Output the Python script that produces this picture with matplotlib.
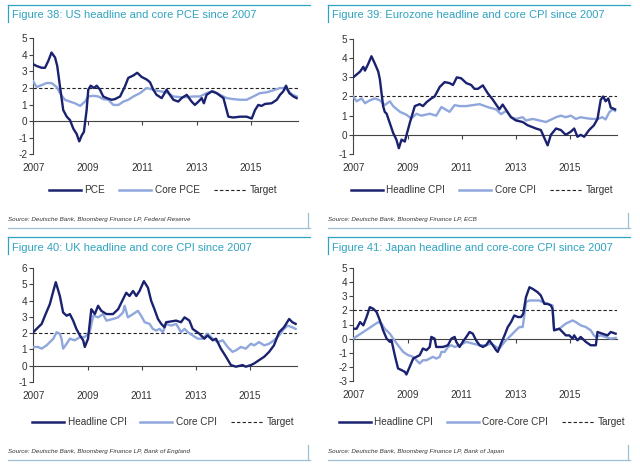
import matplotlib
matplotlib.use("Agg")
import matplotlib.pyplot as plt
from matplotlib.lines import Line2D

plt.rcParams['font.family'] = ['Liberation Sans', 'DejaVu Sans']
plt.rcParams['axes.unicode_minus'] = False

# ---------------- data (decimal years, % y/y) ----------------
us_pce_x = [2007.00, 2007.12, 2007.31, 2007.43, 2007.55, 2007.67, 2007.80, 2007.88, 2007.98, 2008.10,
            2008.23, 2008.35, 2008.47, 2008.59, 2008.69, 2008.78, 2008.86, 2008.96, 2009.02, 2009.11,
            2009.23, 2009.33, 2009.45, 2009.57, 2009.70, 2009.88, 2010.00, 2010.19, 2010.37, 2010.49,
            2010.68, 2010.82, 2010.98, 2011.17, 2011.29, 2011.41, 2011.53, 2011.72, 2011.90, 2012.02,
            2012.15, 2012.33, 2012.45, 2012.64, 2012.82, 2012.94, 2013.07, 2013.19, 2013.27, 2013.37,
            2013.56, 2013.74, 2013.99, 2014.17, 2014.35, 2014.60, 2014.84, 2015.03, 2015.15, 2015.27,
            2015.39, 2015.52, 2015.76, 2015.95, 2016.07, 2016.19, 2016.29, 2016.41, 2016.56, 2016.68]
us_pce_y = [3.43, 3.33, 3.22, 3.22, 3.63, 4.14, 3.84, 3.33, 2.10, 0.67,
            0.27, 0.06, -0.45, -0.76, -1.22, -0.86, -0.65, 0.67, 1.90, 2.14,
            2.00, 2.14, 1.90, 1.49, 1.39, 1.29, 1.33, 1.49, 2.10, 2.61,
            2.76, 2.92, 2.67, 2.51, 2.35, 1.90, 1.59, 1.39, 1.90, 1.59,
            1.29, 1.18, 1.39, 1.59, 1.18, 0.98, 1.18, 1.39, 1.08, 1.59,
            1.80, 1.69, 1.39, 0.27, 0.22, 0.27, 0.27, 0.16, 0.67, 0.98,
            0.92, 1.04, 1.08, 1.29, 1.59, 1.80, 2.14, 1.69, 1.49, 1.39]
us_core_x = [2007.00, 2007.12, 2007.31, 2007.49, 2007.67, 2007.86, 2007.98, 2008.16, 2008.35, 2008.53,
             2008.72, 2008.90, 2009.02, 2009.21, 2009.39, 2009.57, 2009.76, 2009.94, 2010.13, 2010.31,
             2010.49, 2010.68, 2010.92, 2011.17, 2011.41, 2011.66, 2011.90, 2012.15, 2012.39, 2012.64,
             2012.88, 2013.13, 2013.37, 2013.62, 2013.86, 2014.11, 2014.35, 2014.60, 2014.84, 2015.09,
             2015.33, 2015.58, 2015.82, 2016.07, 2016.25, 2016.38, 2016.53, 2016.68]
us_core_y = [2.40, 2.06, 2.18, 2.30, 2.30, 2.06, 1.69, 1.29, 1.18, 1.08,
             0.92, 1.18, 1.49, 1.53, 1.49, 1.33, 1.29, 0.98, 0.98, 1.18,
             1.29, 1.49, 1.69, 2.00, 1.90, 1.80, 1.74, 1.49, 1.45, 1.45,
             1.49, 1.49, 1.69, 1.80, 1.59, 1.39, 1.33, 1.29, 1.29, 1.49,
             1.69, 1.74, 1.86, 2.00, 2.00, 1.80, 1.59, 1.49]

ez_head_x = [2007.00, 2007.25, 2007.37, 2007.43, 2007.55, 2007.67, 2007.80, 2007.92, 2007.98, 2008.10,
             2008.16, 2008.23, 2008.35, 2008.47, 2008.59, 2008.68, 2008.78, 2008.90, 2009.08, 2009.27,
             2009.45, 2009.57, 2009.70, 2009.88, 2010.00, 2010.19, 2010.37, 2010.55, 2010.68, 2010.82,
             2010.98, 2011.17, 2011.35, 2011.47, 2011.60, 2011.78, 2011.96, 2012.15, 2012.39, 2012.51,
             2012.70, 2012.82, 2013.00, 2013.25, 2013.43, 2013.74, 2013.92, 2014.17, 2014.29, 2014.48,
             2014.66, 2014.84, 2015.03, 2015.15, 2015.27, 2015.39, 2015.52, 2015.70, 2015.88, 2016.01,
             2016.13, 2016.22, 2016.31, 2016.41, 2016.50, 2016.66]
ez_head_y = [3.00, 3.30, 3.55, 3.35, 3.70, 4.10, 3.70, 3.30, 2.90, 1.50,
             1.20, 1.10, 0.60, 0.10, -0.25, -0.70, -0.25, -0.35, 0.60, 1.50,
             1.60, 1.50, 1.70, 1.90, 2.00, 2.50, 2.75, 2.70, 2.60, 3.00,
             2.95, 2.70, 2.60, 2.40, 2.40, 2.58, 2.17, 1.83, 1.33, 1.58,
             1.17, 0.92, 0.75, 0.67, 0.50, 0.33, 0.25, -0.55, 0.00, 0.33,
             0.25, 0.00, 0.17, 0.33, -0.10, 0.00, -0.10, 0.25, 0.50, 0.83,
             1.83, 2.00, 1.75, 1.90, 1.42, 1.33]
ez_core_x = [2007.00, 2007.12, 2007.31, 2007.43, 2007.61, 2007.80, 2007.98, 2008.16, 2008.35, 2008.47,
             2008.72, 2008.96, 2009.14, 2009.33, 2009.51, 2009.82, 2010.06, 2010.25, 2010.43, 2010.55,
             2010.74, 2010.92, 2011.17, 2011.41, 2011.66, 2012.02, 2012.27, 2012.45, 2012.64, 2012.82,
             2013.00, 2013.25, 2013.37, 2013.62, 2013.86, 2014.11, 2014.35, 2014.48, 2014.66, 2014.84,
             2015.03, 2015.21, 2015.39, 2015.58, 2015.82, 2016.01, 2016.19, 2016.31, 2016.44, 2016.56,
             2016.66]
ez_core_y = [2.00, 1.75, 1.90, 1.65, 1.80, 1.90, 1.80, 1.55, 1.75, 1.50,
             1.20, 1.05, 0.85, 1.10, 1.00, 1.10, 1.00, 1.45, 1.30, 1.20,
             1.55, 1.50, 1.50, 1.55, 1.60, 1.42, 1.33, 1.08, 1.25, 0.92,
             0.83, 0.92, 0.75, 0.83, 0.75, 0.67, 0.83, 0.92, 1.00, 0.92,
             1.00, 0.83, 0.92, 0.87, 0.83, 0.83, 0.92, 0.80, 1.17, 1.33,
             1.25]

uk_head_x = [2007.00, 2007.18, 2007.31, 2007.43, 2007.61, 2007.74, 2007.83, 2007.98, 2008.10, 2008.23,
             2008.35, 2008.47, 2008.59, 2008.72, 2008.84, 2008.90, 2009.02, 2009.14, 2009.27, 2009.39,
             2009.51, 2009.70, 2009.94, 2010.13, 2010.31, 2010.43, 2010.55, 2010.68, 2010.80, 2010.92,
             2011.08, 2011.23, 2011.35, 2011.47, 2011.60, 2011.72, 2011.84, 2011.90, 2012.27, 2012.45,
             2012.58, 2012.76, 2012.88, 2013.13, 2013.31, 2013.43, 2013.62, 2013.74, 2013.92, 2014.11,
             2014.29, 2014.48, 2014.72, 2014.84, 2015.03, 2015.15, 2015.33, 2015.52, 2015.70, 2015.88,
             2016.07, 2016.25, 2016.44, 2016.56, 2016.68]
uk_head_y = [2.06, 2.36, 2.57, 3.07, 3.78, 4.59, 5.13, 4.28, 3.27, 3.07,
             3.17, 2.77, 2.26, 1.86, 1.56, 1.15, 1.66, 3.47, 3.17, 3.68,
             3.37, 3.17, 3.17, 3.47, 4.08, 4.48, 4.28, 4.59, 4.28, 4.59,
             5.19, 4.79, 3.98, 3.47, 2.87, 2.57, 2.36, 2.67, 2.77, 2.67,
             2.97, 2.77, 2.26, 1.96, 1.66, 1.86, 1.56, 1.66, 1.05, 0.55,
             0.04, -0.06, 0.04, -0.06, 0.04, 0.14, 0.34, 0.55, 0.85, 1.25,
             2.06, 2.36, 2.87, 2.67, 2.57]
uk_core_x = [2007.00, 2007.18, 2007.31, 2007.49, 2007.61, 2007.74, 2007.86, 2007.98, 2008.04, 2008.10,
             2008.23, 2008.35, 2008.53, 2008.72, 2008.90, 2009.08, 2009.21, 2009.39, 2009.57, 2009.70,
             2009.94, 2010.13, 2010.31, 2010.37, 2010.49, 2010.68, 2010.86, 2010.98, 2011.11, 2011.29,
             2011.41, 2011.53, 2011.66, 2011.78, 2011.90, 2012.09, 2012.27, 2012.45, 2012.58, 2012.70,
             2012.88, 2013.07, 2013.25, 2013.43, 2013.62, 2013.80, 2013.99, 2014.17, 2014.35, 2014.48,
             2014.66, 2014.84, 2015.03, 2015.15, 2015.33, 2015.52, 2015.70, 2015.88, 2016.07, 2016.25,
             2016.38, 2016.56, 2016.68]
uk_core_y = [1.15, 1.15, 1.05, 1.25, 1.45, 1.66, 2.06, 1.96, 1.66, 1.05,
             1.35, 1.66, 1.56, 1.76, 1.76, 2.06, 3.07, 2.97, 3.17, 2.77,
             2.87, 2.97, 3.27, 3.68, 2.97, 3.17, 3.37, 3.07, 2.67, 2.57,
             2.26, 2.16, 2.26, 2.06, 2.57, 2.46, 2.57, 2.06, 2.26, 2.06,
             1.86, 1.66, 1.66, 1.96, 1.66, 1.45, 1.56, 1.15, 0.85, 0.95,
             1.15, 1.05, 1.35, 1.25, 1.45, 1.25, 1.35, 1.56, 1.86, 2.26,
             2.46, 2.36, 2.26]

jp_head_x = [2007.00, 2007.12, 2007.25, 2007.37, 2007.49, 2007.61, 2007.74, 2007.86, 2007.98, 2008.10,
             2008.23, 2008.35, 2008.41, 2008.53, 2008.65, 2008.78, 2008.90, 2008.96, 2009.08, 2009.21,
             2009.33, 2009.45, 2009.57, 2009.70, 2009.82, 2009.88, 2010.00, 2010.06, 2010.31, 2010.49,
             2010.62, 2010.74, 2010.80, 2010.92, 2011.04, 2011.17, 2011.29, 2011.41, 2011.53, 2011.66,
             2011.78, 2011.90, 2012.02, 2012.15, 2012.27, 2012.33, 2012.45, 2012.58, 2012.70, 2012.82,
             2012.94, 2013.07, 2013.19, 2013.27, 2013.37, 2013.50, 2013.62, 2013.80, 2013.92, 2014.05,
             2014.17, 2014.29, 2014.35, 2014.41, 2014.60, 2014.72, 2014.84, 2014.97, 2015.09, 2015.15,
             2015.27, 2015.39, 2015.58, 2015.76, 2015.95, 2016.01, 2016.19, 2016.38, 2016.50, 2016.68]
jp_head_y = [0.70, 0.70, 1.17, 0.94, 1.53, 2.23, 2.11, 1.88, 1.29, 0.59,
             0.00, -0.23, -0.12, -1.17, -2.11, -2.23, -2.35, -2.54, -2.00, -1.41,
             -1.29, -1.17, -0.70, -0.82, -0.59, 0.12, 0.00, -0.59, -0.59, -0.47,
             0.00, 0.12, -0.23, -0.59, -0.23, 0.12, 0.47, 0.35, -0.12, -0.47,
             -0.59, -0.47, -0.12, -0.47, -0.82, -0.94, -0.35, 0.23, 0.82, 1.17,
             1.64, 1.53, 1.53, 1.76, 2.93, 3.64, 3.52, 3.29, 3.05, 2.46,
             2.46, 2.35, 2.11, 0.59, 0.70, 0.47, 0.23, 0.23, 0.00, 0.23,
             -0.12, 0.12, -0.23, -0.47, -0.47, 0.47, 0.35, 0.23, 0.47, 0.35]
jp_core_x = [2007.00, 2007.18, 2007.37, 2007.55, 2007.74, 2007.92, 2008.04, 2008.16, 2008.35, 2008.47,
             2008.65, 2008.84, 2009.02, 2009.21, 2009.33, 2009.45, 2009.57, 2009.70, 2009.82, 2009.94,
             2010.06, 2010.19, 2010.25, 2010.37, 2010.49, 2010.62, 2010.74, 2010.92, 2011.17, 2011.41,
             2011.66, 2011.90, 2012.09, 2012.27, 2012.39, 2012.58, 2012.76, 2012.88, 2013.00, 2013.13,
             2013.25, 2013.31, 2013.37, 2013.50, 2013.86, 2013.99, 2014.17, 2014.35, 2014.41, 2014.60,
             2014.84, 2015.09, 2015.21, 2015.39, 2015.58, 2015.76, 2015.88, 2015.95, 2016.13, 2016.31,
             2016.50, 2016.68]
jp_core_y = [0.00, 0.23, 0.47, 0.70, 0.94, 1.17, 1.06, 0.70, 0.35, 0.00,
             -0.47, -0.94, -1.17, -1.29, -1.53, -1.76, -1.53, -1.53, -1.41, -1.29,
             -1.41, -1.29, -0.94, -0.94, -0.59, -0.47, -0.59, -0.47, -0.23, -0.35,
             -0.47, -0.47, -0.35, -0.59, -0.70, -0.23, 0.12, 0.35, 0.59, 0.82,
             0.82, 1.64, 2.58, 2.70, 2.70, 2.58, 2.46, 2.35, 0.59, 0.70,
             1.06, 1.29, 1.17, 0.94, 0.82, 0.59, 0.23, 0.12, 0.23, 0.12,
             0.00, 0.05]

target = 2.0
year_ticks = [2007, 2009, 2011, 2013, 2015]
year_labels = ['2007', '2009', '2011', '2013', '2015']

titles = ["Figure 38: US headline and core PCE since 2007",
          "Figure 39: Eurozone headline and core CPI since 2007",
          "Figure 40: UK headline and core CPI since 2007",
          "Figure 41: Japan headline and core-core CPI since 2007"]
sources = ["Source: Deutsche Bank, Bloomberg Finance LP, Federal Reserve",
           "Source: Deutsche Bank, Bloomberg Finance LP, ECB",
           "Source: Deutsche Bank, Bloomberg Finance LP, Bank of England",
           "Source: Deutsche Bank, Bloomberg Finance LP, Bank of Japan"]
head_labels = ["PCE", "Headline CPI", "Headline CPI", "Headline CPI"]
core_labels = ["Core PCE", "Core CPI", "Core CPI", "Core-Core CPI"]
target_label = "Target"

series = [(us_pce_x, us_pce_y, us_core_x, us_core_y),
          (ez_head_x, ez_head_y, ez_core_x, ez_core_y),
          (uk_head_x, uk_head_y, uk_core_x, uk_core_y),
          (jp_head_x, jp_head_y, jp_core_x, jp_core_y)]
ylims = [(-2, 5), (-1, 5), (-1, 6), (-3, 5)]

# ---------------- style ----------------
W, H = 640, 465
HEAD_C = '#1a2270'
CORE_C = '#8fa7dc'
TEAL = '#2fa3c0'
FRAME_C = '#9cc0d6'
TXT_C = '#333333'

fig = plt.figure(figsize=(W / 100, H / 100), dpi=100)
fig.patch.set_facecolor('white')

def fx(px):
    return px / W

def fy(py):
    return 1 - py / H

# panel geometry in pixels: (axes left, right, top, bottom, panel x offset, panel y offset)
geo = [(33.3, 298, 38.3, 154.3, 0, 0),
       (353.3, 617, 39.0, 154.0, 320, 0),
       (33.3, 297, 268.0, 382.0, 0, 232),
       (353.3, 617, 268.0, 381.0, 320, 232)]
legend_cx = [163, 482, 163, 482]

for i in range(4):
    l, r, t, b, ox, oy = geo[i]
    ax = fig.add_axes([fx(l), fy(b), (r - l) / W, (b - t) / H])
    hx, hy, cx, cy = series[i]
    ax.plot(cx, cy, color=CORE_C, lw=1.7, zorder=3, solid_joinstyle='round')
    ax.plot(hx, hy, color=HEAD_C, lw=1.7, zorder=4, solid_joinstyle='round')
    ax.axhline(target, color='#222222', lw=0.8, linestyle=(0, (3, 2)), zorder=2)
    ymin, ymax = ylims[i]
    ax.set_ylim(ymin, ymax)
    ax.set_xlim(2007, 2016.73)
    ax.set_yticks(range(ymin, ymax + 1))
    ax.set_xticks(year_ticks)
    ax.set_xticklabels(year_labels)
    for s in ['top', 'right', 'bottom']:
        ax.spines[s].set_visible(False)
    ax.spines['left'].set_color('#444444')
    ax.spines['left'].set_linewidth(0.8)
    ax.tick_params(axis='y', direction='out', length=3, width=0.8, color='#444444',
                   labelsize=7.2, labelcolor=TXT_C, pad=1.5)
    ax.tick_params(axis='x', length=0, labelsize=7.2, labelcolor=TXT_C, pad=6.5)
    # zero line with year ticks
    sec = ax.secondary_xaxis((0 - ymin) / (ymax - ymin))
    sec.set_xticks(year_ticks)
    sec.tick_params(axis='x', direction='out', length=3, width=0.8, color='#444444',
                    labelbottom=False, labeltop=False)
    sec.spines['bottom'].set_color('#444444')
    sec.spines['bottom'].set_linewidth(0.8)
    ax.patch.set_alpha(0)

    # legend
    handles = [Line2D([], [], color=HEAD_C, lw=1.8),
               Line2D([], [], color=CORE_C, lw=1.8),
               Line2D([], [], color='#222222', lw=0.8, linestyle=(0, (3, 2)))]
    fig.legend(handles, [head_labels[i], core_labels[i], target_label],
               loc='center', bbox_to_anchor=(fx(legend_cx[i]), fy(oy + 190)),
               bbox_transform=fig.transFigure, ncol=3, frameon=False,
               fontsize=7.2, handlelength=3.2, handletextpad=0.35, columnspacing=1.4,
               labelcolor=TXT_C, borderaxespad=0, borderpad=0)

    # title and frame decoration
    fig.text(fx(ox + 12), fy(oy + 15.5), titles[i], color=TEAL, fontsize=8,
             ha='left', va='center')
    fig.add_artist(Line2D([fx(ox + 8), fx(ox + 310)], [fy(oy + 5), fy(oy + 5)],
                          color=TEAL, lw=0.9))
    fig.add_artist(Line2D([fx(ox + 8), fx(ox + 8)], [fy(oy + 5), fy(oy + 22)],
                          color=TEAL, lw=0.9))
    fig.text(fx(ox + 8), fy(oy + 219), sources[i], color=TXT_C, fontsize=4.5,
             style='italic', ha='left', va='center')
    bl = oy + 228
    fig.add_artist(Line2D([fx(ox + 8), fx(ox + 310)], [fy(bl), fy(bl)],
                          color=FRAME_C, lw=0.9))
    fig.add_artist(Line2D([fx(ox + 308), fx(ox + 308)], [fy(bl - 15), fy(bl)],
                          color=FRAME_C, lw=0.9))

fig.savefig('out.png', dpi=100, facecolor='white')
